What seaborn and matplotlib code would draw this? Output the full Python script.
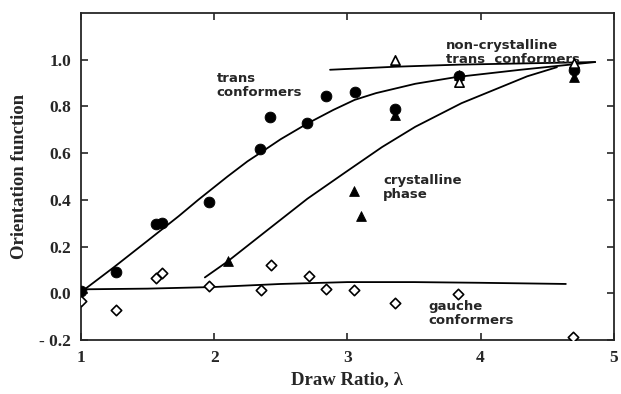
import matplotlib
matplotlib.use("Agg")
import matplotlib.pyplot as plt
import seaborn as sns

# ---- data ----
trans_x = [1.00, 1.26, 1.565, 1.61, 1.96, 2.343, 2.42, 2.70, 2.84, 3.054, 3.36, 3.84, 4.70]
trans_y = [0.01, 0.09, 0.295, 0.30, 0.39, 0.616, 0.756, 0.73, 0.845, 0.861, 0.79, 0.93, 0.955]

cryst_x = [2.10, 3.05, 3.10, 3.36, 3.84, 4.70]
cryst_y = [0.14, 0.44, 0.33, 0.765, 0.935, 0.925]

noncryst_x = [3.36, 3.84, 4.70]
noncryst_y = [1.00, 0.905, 0.985]

gauche_x = [1.00, 1.26, 1.565, 1.61, 1.96, 2.35, 2.43, 2.71, 2.84, 3.05, 3.36, 3.83, 4.69]
gauche_y = [-0.035, -0.07, 0.065, 0.085, 0.03, 0.013, 0.12, 0.075, 0.017, 0.013, -0.04, -0.004, -0.185]

# fitted curves
trans_fit_x = [1.00, 1.25, 1.50, 1.733, 1.88, 2.10, 2.25, 2.343, 2.50, 2.70, 2.894,
               3.054, 3.215, 3.51, 3.82, 4.30, 4.86]
trans_fit_y = [0.005, 0.113, 0.225, 0.33, 0.40, 0.50, 0.565, 0.60, 0.66, 0.727, 0.785,
               0.828, 0.857, 0.897, 0.926, 0.957, 0.99]

cryst_fit_x = [1.93, 2.10, 2.376, 2.70, 2.99, 3.26, 3.51, 3.857, 4.35, 4.573]
cryst_fit_y = [0.068, 0.136, 0.26, 0.405, 0.52, 0.626, 0.713, 0.814, 0.929, 0.968]

noncryst_fit_x = [2.87, 3.36, 3.84, 4.86]
noncryst_fit_y = [0.957, 0.970, 0.979, 0.99]

gauche_fit_x = [1.00, 1.50, 2.00, 2.50, 3.00, 3.50, 4.00, 4.64]
gauche_fit_y = [0.017, 0.02, 0.027, 0.04, 0.048, 0.048, 0.045, 0.04]

x_ticks = [1, 2, 3, 4, 5]
y_ticks = [-0.2, 0.0, 0.2, 0.4, 0.6, 0.8, 1.0]

sns.set_style("ticks")
plt.rcParams["font.family"] = ["Liberation Serif", "DejaVu Serif"]

fig = plt.figure(figsize=(6.21, 3.94), dpi=100)
ax = fig.add_axes([0.1304, 0.137, 0.858, 0.830])

lw = 1.3
for fx, fy in [(trans_fit_x, trans_fit_y), (cryst_fit_x, cryst_fit_y),
               (noncryst_fit_x, noncryst_fit_y), (gauche_fit_x, gauche_fit_y)]:
    sns.lineplot(x=fx, y=fy, ax=ax, color="black", lw=lw, sort=False, estimator=None)

sns.scatterplot(x=trans_x, y=trans_y, ax=ax, marker="o", s=60, color="black",
                edgecolor="black", zorder=5)
sns.scatterplot(x=cryst_x, y=cryst_y, ax=ax, marker="^", s=50, color="black",
                edgecolor="black", zorder=5)
sns.scatterplot(x=noncryst_x, y=noncryst_y, ax=ax, marker="^", s=45, facecolor="white",
                edgecolor="black", linewidth=1.2, zorder=6)
sns.scatterplot(x=gauche_x, y=gauche_y, ax=ax, marker="D", s=28, facecolor="white",
                edgecolor="black", linewidth=1.2, zorder=5)

ax.set_xlim(1, 5)
ax.set_ylim(-0.2, 1.2)
ax.set_xticks(x_ticks)
ax.set_yticks(y_ticks)
ax.set_xticklabels([str(t) for t in x_ticks])
ax.set_yticklabels(["%.1f" % t if t >= 0 else "- %.1f" % abs(t) for t in y_ticks])
ax.tick_params(direction="in", top=True, right=True, length=5, width=1.2,
               labelsize=12.5, pad=7)
for lab in ax.get_xticklabels() + ax.get_yticklabels():
    lab.set_fontweight("bold")
for sp in ax.spines.values():
    sp.set_linewidth(1.3)
    sp.set_visible(True)

ax.set_xlabel("Draw Ratio, λ", fontsize=13.5, fontweight="bold", labelpad=4)
ax.set_ylabel("Orientation function", fontsize=13.5, fontweight="bold", labelpad=8)

afont = dict(fontsize=9.5, fontweight="bold", family=["DejaVu Sans"], linespacing=1.1)
ax.text(2.02, 0.89, "trans\nconformers", ha="left", va="center", **afont)
ax.text(3.74, 1.03, "non-crystalline\ntrans  conformers", ha="left", va="center", **afont)
ax.text(3.27, 0.455, "crystalline\nphase", ha="left", va="center", **afont)
ax.text(3.61, -0.085, "gauche\nconformers", ha="left", va="center", **afont)

fig.savefig("out.png", dpi=100)
